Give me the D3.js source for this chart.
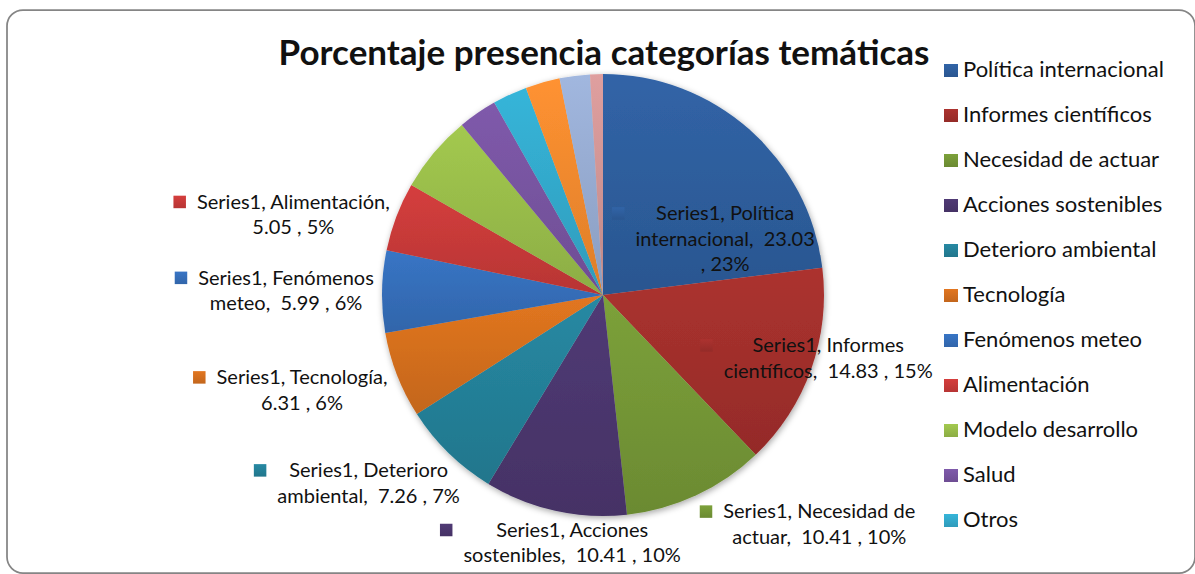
<!DOCTYPE html>
<html>
<head>
<meta charset="utf-8">
<script src="https://cdn.jsdelivr.net/npm/d3@7"></script>
<style>
  body { margin: 0; background: #fff; }
  text { font-family: Lato, "Noto Sans", sans-serif; fill: #111; white-space: pre; }
</style>
</head>
<body>
<div id="chart"></div>
<script>
(function() {
  // Chart data
  var categories = ["Política internacional", "Informes científicos", "Necesidad de actuar",
    "Acciones sostenibles", "Deterioro ambiental", "Tecnología", "Fenómenos meteo",
    "Alimentación", "Modelo desarrollo", "Salud", "Otros", "Cat12", "Cat13", "Cat14"];
  var values = [23.03, 14.83, 10.41, 10.41, 7.26, 6.31, 5.99, 5.05, 5.68, 2.84, 2.52, 2.52, 2.21, 0.94];
  var seriesName = "Series1";
  var legendShown = 11; // only the first 11 entries fit in the legend

  // Slice colours (Excel 2007 style)
  var colors = ["#2f60a0", "#a5302d", "#779a38", "#4d3870", "#25839c", "#d9711f",
    "#3670bd", "#cc3b3a", "#9cc14c", "#7a56a4", "#34add0", "#f68c2f", "#9aafd6", "#d69898"];

  // Data label placement: anchor on the slice's mid angle at k*r, then nudged;
  // lines = number of words on each wrapped line
  var labelLayout = {
    "Política internacional": {k: 0.5, dx: 49, dy: 8, lines: [2, 2, 2]},
    "Informes científicos":   {k: 1, dx: 17, dy: -17, lines: [2, 4]},
    "Necesidad de actuar":    {k: 1, dx: 123, dy: 23, lines: [3, 4]},
    "Acciones sostenibles":   {k: 1, dx: 17, dy: 26, lines: [2, 4]},
    "Deterioro ambiental":    {k: 1, dx: -80, dy: 24, lines: [2, 4]},
    "Tecnología":             {k: 1, dx: -95, dy: 9, lines: [2, 3]},
    "Fenómenos meteo":        {k: 1, dx: -96, dy: -7, lines: [2, 4]},
    "Alimentación":           {k: 1, dx: -103, dy: -8, lines: [2, 3]}
  };

  var W = 1195, H = 574;
  var cx = 603, cy = 295, r = 221;

  var svg = d3.select("#chart").append("svg")
    .attr("width", W)
    .attr("height", H);

  var defs = svg.append("defs");

  // vertical gradient for every colour
  colors.forEach(function(c, i) {
    var g = defs.append("linearGradient")
      .attr("id", "grad" + i)
      .attr("x1", 0).attr("y1", 0).attr("x2", 0).attr("y2", 1);
    g.append("stop").attr("offset", "0%").attr("stop-color", d3.color(c).brighter(0.12));
    g.append("stop").attr("offset", "100%").attr("stop-color", d3.color(c).darker(0.3));
  });

  var shadow = defs.append("filter").attr("id", "shadow")
    .attr("x", "-10%").attr("y", "-10%").attr("width", "120%").attr("height", "120%");
  shadow.append("feDropShadow")
    .attr("dx", 1).attr("dy", 2).attr("stdDeviation", 3)
    .attr("flood-color", "#000").attr("flood-opacity", 0.35);

  // Chart border
  svg.append("rect")
    .attr("x", 7).attr("y", 10)
    .attr("width", 1188).attr("height", 563)
    .attr("rx", 16).attr("ry", 16)
    .attr("fill", "#fff")
    .attr("stroke", "#858585")
    .attr("stroke-width", 1.75);

  // Title
  svg.append("text")
    .attr("x", 604).attr("y", 65)
    .attr("text-anchor", "middle")
    .style("font-size", "35px")
    .style("font-weight", "bold")
    .text("Porcentaje presencia categorías temáticas");

  var data = categories.map(function(c, i) { return {name: c, value: values[i], idx: i}; });

  var pie = d3.pie().sort(null).value(function(d) { return d.value; });
  var arc = d3.arc().innerRadius(0).outerRadius(r);
  var arcs = pie(data);

  var g = svg.append("g").attr("transform", "translate(" + cx + "," + cy + ")");

  g.append("g")
    .attr("filter", "url(#shadow)")
    .selectAll("path")
    .data(arcs)
    .enter()
    .append("path")
      .attr("d", arc)
      .attr("fill", function(d) { return "url(#grad" + d.data.idx + ")"; });

  // Data labels
  var fmt = d3.format(".2f");
  var fs = 20, lh = 25.5;

  arcs.forEach(function(d) {
    var lay = labelLayout[d.data.name];
    if (!lay) return;
    var raw = seriesName + ", " + d.data.name + ",  " + fmt(d.data.value) + " , " + Math.round(d.data.value) + "%";
    var tokens = raw.match(/\s*\S+/g);
    var lines = [], pos = 0;
    lay.lines.forEach(function(n) {
      lines.push(tokens.slice(pos, pos + n).join("").replace(/^\s+/, ""));
      pos += n;
    });

    var mid = (d.startAngle + d.endAngle) / 2;
    var ax = Math.sin(mid) * r * lay.k + lay.dx;
    var ay = -Math.cos(mid) * r * lay.k + lay.dy;

    // text block centred on ax, first baseline on ay
    var lab = g.append("g").attr("transform", "translate(" + ax + "," + ay + ")");
    var txt = lab.append("text")
      .attr("text-anchor", "middle")
      .style("font-size", fs + "px");
    lines.forEach(function(l, i) {
      txt.append("tspan").attr("x", 0).attr("y", i * lh).text(l);
    });
    var bw = 0;
    txt.selectAll("tspan").each(function() { bw = Math.max(bw, this.getComputedTextLength()); });

    var sq = 12.5, gap = 11;
    // legend key to the left of the block, on the first line
    lab.append("rect")
      .attr("x", -bw / 2 - gap - sq)
      .attr("y", -13)
      .attr("width", sq).attr("height", sq)
      .attr("fill", "url(#grad" + d.data.idx + ")");
  });

  // Legend
  var legend = svg.append("g").attr("transform", "translate(944,77)");
  var items = legend.selectAll("g")
    .data(data.slice(0, legendShown))
    .enter()
    .append("g")
      .attr("transform", function(d, i) { return "translate(0," + (i * 45) + ")"; });

  items.append("rect")
    .attr("x", 0).attr("y", -13)
    .attr("width", 14).attr("height", 13)
    .attr("fill", function(d) { return "url(#grad" + d.idx + ")"; });

  items.append("text")
    .attr("x", 19).attr("y", 0)
    .style("font-size", "22px")
    .text(function(d) { return d.name; });
})();
</script>
</body>
</html>
